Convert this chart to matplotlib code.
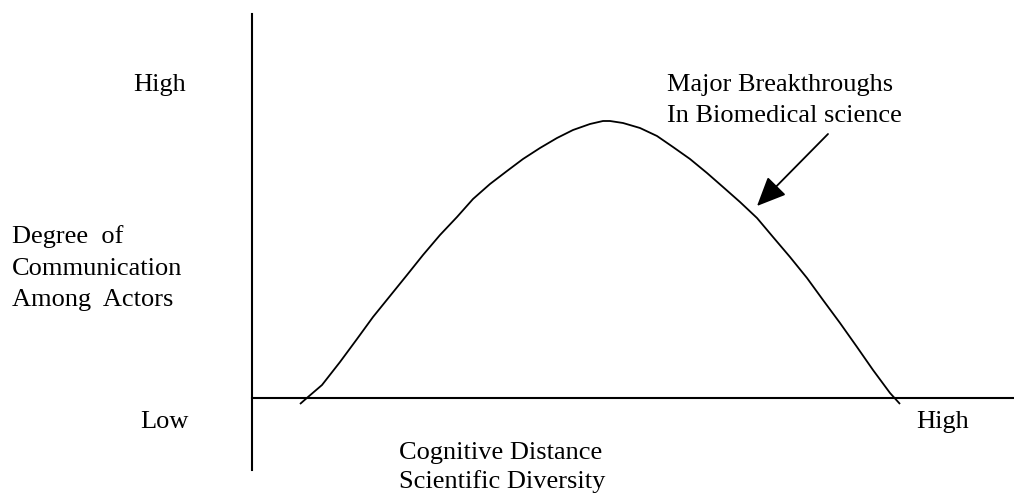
import matplotlib
matplotlib.use("Agg")
import matplotlib.pyplot as plt

# curve, in image pixel coordinates (y grows downward)
curve_x = [300, 308, 322, 340, 357, 373, 390, 407, 423, 440, 457, 473, 490,
           507, 523, 540, 557, 573, 590, 603, 610, 623, 640, 657, 673, 690,
           707, 723, 740, 757, 773, 790, 807, 823, 840, 857, 873, 890, 900]
curve_y = [404, 397, 385, 362, 339, 317, 296, 275, 255, 235, 217, 199, 184,
           171, 159, 148, 138, 130, 124, 121, 121, 123, 128, 136, 147, 159,
           173, 187, 202, 218, 237, 257, 278, 300, 323, 347, 370, 393, 404]

# axis lines
y_axis_x = 252
y_axis_span = (14, 470)
x_axis_y = 398
x_axis_span = (252, 1014)

# arrow (tail -> tip)
arrow_tail = (828, 134)
arrow_tip = (757, 206)

# one entry per text line: text, left x, baseline y
labels = [
    ("High", 133, 91),
    ("Low", 140, 428),
    ("Degree  of", 12, 243),
    ("Communication", 12, 275),
    ("Among  Actors", 12, 306),
    ("Major Breakthroughs", 667, 91),
    ("In Biomedical science", 667, 122),
    ("High", 916, 428),
    ("Cognitive Distance", 399, 459),
    ("Scientific Diversity", 399, 488),
]

W, H = 1014, 493
fig = plt.figure(figsize=(W / 100, H / 100), dpi=100)
ax = fig.add_axes([0, 0, 1, 1])
ax.set_xlim(0, W)
ax.set_ylim(H, 0)
ax.axis("off")

ax.plot([y_axis_x, y_axis_x], y_axis_span, color="black", lw=1.5)
ax.plot(x_axis_span, [x_axis_y, x_axis_y], color="black", lw=1.5)
ax.plot(curve_x, curve_y, color="black", lw=1.3,
        solid_joinstyle="round", solid_capstyle="butt")

ax.annotate("", xy=arrow_tip, xytext=arrow_tail,
            arrowprops=dict(arrowstyle="-|>,head_length=0.9,head_width=0.4",
                            mutation_scale=20, color="black", lw=1.3,
                            shrinkA=0, shrinkB=0))

for txt, x, y in labels:
    ax.text(x, y, txt, family="Liberation Serif", fontsize=19,
            ha="left", va="baseline")

fig.savefig("out.png", dpi=100)
